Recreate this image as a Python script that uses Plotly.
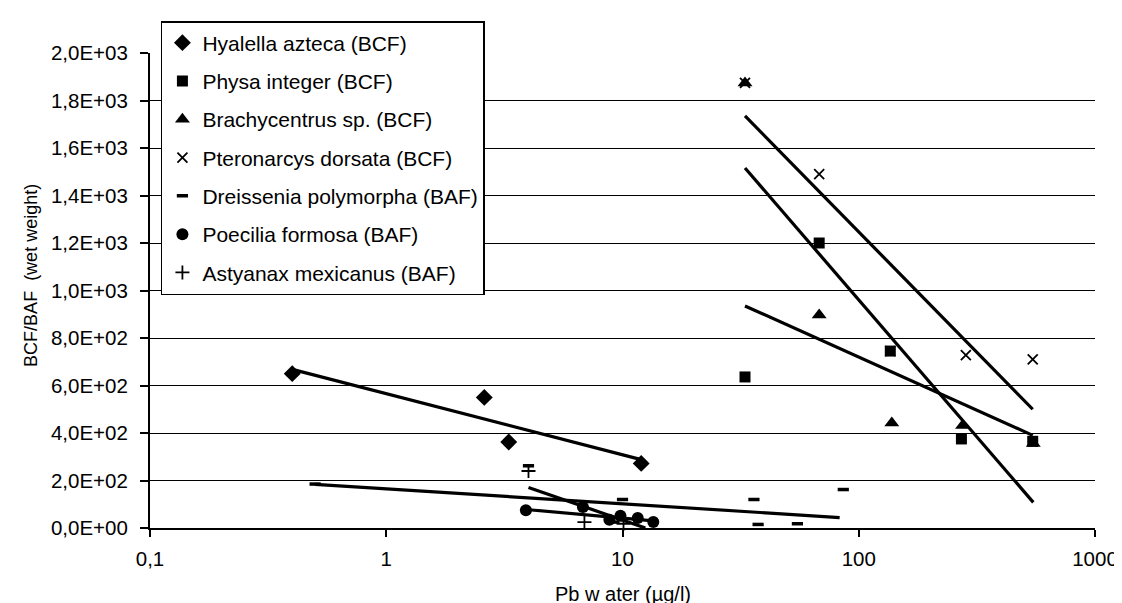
import plotly.graph_objects as go

# ---------------- data ----------------
series_names = [
    "Hyalella azteca (BCF)",
    "Physa integer (BCF)",
    "Brachycentrus sp. (BCF)",
    "Pteronarcys dorsata (BCF)",
    "Dreissenia polymorpha (BAF)",
    "Poecilia formosa (BAF)",
    "Astyanax mexicanus (BAF)",
]

hyalella_x = [0.4, 2.6, 3.3, 12.0]
hyalella_y = [650, 550, 362, 272]

physa_x = [33, 68, 136, 272, 545]
physa_y = [636, 1200, 745, 375, 365]

brachy_x = [33, 68, 138, 275, 548]
brachy_y = [1874, 897, 442, 432, 356]

pteron_x = [33, 68, 136, 284, 545]
pteron_y = [1874, 1490, 745, 728, 710]

dreiss_x = [0.5, 4.0, 9.2, 10.0, 36.0, 37.5, 55.0, 86.0]
dreiss_y = [185, 262, 25, 120, 120, 15, 18, 162]

poecil_x = [3.9, 6.8, 8.8, 9.8, 11.6, 13.5]
poecil_y = [75, 88, 35, 52, 42, 25]

astyan_x = [4.0, 6.9, 10.1]
astyan_y = [240, 25, 18]

# trend-line end points (log trendlines, straight on the log axis)
hyalella_trend_x = [0.4, 12.0]
hyalella_trend_y = [668, 288]
physa_trend_x = [33, 545]
physa_trend_y = [935, 390]
brachy_trend_x = [33, 548]
brachy_trend_y = [1516, 108]
pteron_trend_x = [33, 545]
pteron_trend_y = [1735, 500]
dreiss_trend_x = [0.5, 83.0]
dreiss_trend_y = [184, 44]
poecil_trend_x = [3.9, 13.5]
poecil_trend_y = [78, 30]
astyan_trend_x = [4.0, 12.5]
astyan_trend_y = [171, 0]

x_tickvals = [0.1, 1, 10, 100, 1000]
x_ticktext = ["0,1", "1", "10", "100", "1000"]
y_tickvals = [0, 200, 400, 600, 800, 1000, 1200, 1400, 1600, 1800, 2000]
y_ticktext = ["0,0E+00", "2,0E+02", "4,0E+02", "6,0E+02", "8,0E+02", "1,0E+03",
              "1,2E+03", "1,4E+03", "1,6E+03", "1,8E+03", "2,0E+03"]

# ---------------- figure ----------------
FONT = "Liberation Sans, Arial, sans-serif"
fig = go.Figure()

trends = [
    (hyalella_trend_x, hyalella_trend_y),
    (physa_trend_x, physa_trend_y),
    (brachy_trend_x, brachy_trend_y),
    (pteron_trend_x, pteron_trend_y),
    (dreiss_trend_x, dreiss_trend_y),
    (poecil_trend_x, poecil_trend_y),
    (astyan_trend_x, astyan_trend_y),
]
for tx, ty in trends:
    fig.add_trace(go.Scatter(x=tx, y=ty, mode="lines", showlegend=False,
                             line=dict(color="black", width=3.2), hoverinfo="skip"))

pts = [
    (hyalella_x, hyalella_y, dict(symbol="diamond", size=13, color="black")),
    (physa_x, physa_y, dict(symbol="square", size=11, color="black")),
    (brachy_x, brachy_y, dict(symbol="triangle-up", size=13, color="black")),
    (pteron_x, pteron_y, dict(symbol="x-thin", size=10, color="black",
                              line=dict(color="black", width=1.8))),
    (dreiss_x, dreiss_y, dict(symbol="line-ew", size=8, color="black",
                              line=dict(color="black", width=3.5))),
    (poecil_x, poecil_y, dict(symbol="circle", size=12, color="black")),
    (astyan_x, astyan_y, dict(symbol="cross-thin", size=10, color="black",
                              line=dict(color="black", width=1.8))),
]
for i, (px, py, mk) in enumerate(pts):
    fig.add_trace(go.Scatter(x=px, y=py, mode="markers", name=series_names[i],
                             legendgroup=f"g{i}", marker=mk, cliponaxis=False))

fig.update_layout(
    width=1122, height=603,
    margin=dict(l=142, r=28, t=45, b=83),
    paper_bgcolor="white", plot_bgcolor="white",
    font=dict(family=FONT, size=20, color="black"),
    showlegend=True,
    legend=dict(
        x=(153 - 142) / 952, xanchor="left", y=1 + (45 - 13) / 475, yanchor="top",
        bgcolor="white", bordercolor="black", borderwidth=1.5,
        font=dict(family=FONT, size=21, color="black"),
        tracegroupgap=8, itemwidth=30,
    ),
    xaxis=dict(
        type="log", range=[-1, 3],
        tickvals=x_tickvals, ticktext=x_ticktext,
        showgrid=False, zeroline=False,
        showline=True, linecolor="black", linewidth=2,
        ticks="outside", ticklen=7, tickwidth=1.5, tickcolor="black",
        tickfont=dict(family=FONT, size=20.5, color="black"),
        ticklabelstandoff=4,
    ),
    yaxis=dict(
        range=[0, 2000],
        tickvals=y_tickvals, ticktext=y_ticktext,
        showgrid=True, gridcolor="black", gridwidth=1.3,
        zeroline=False,
        showline=True, linecolor="black", linewidth=2,
        ticks="outside", ticklen=8, tickwidth=1.5, tickcolor="black",
        tickfont=dict(family=FONT, size=20.5, color="black"),
        ticklabelstandoff=8,
    ),
    annotations=[
        dict(text="BCF/BAF  (wet weight)", textangle=-90, xref="paper", yref="paper",
             x=(22 - 142) / 952, y=(520 - 267) / 475, xanchor="center", yanchor="middle",
             showarrow=False, font=dict(family=FONT, size=18, color="black")),
        dict(text="Pb w ater (µg/l)", xref="paper", yref="paper",
             x=0.5, y=-(586 - 520) / 475, xanchor="center", yanchor="middle",
             showarrow=False, font=dict(family=FONT, size=20, color="black")),
    ],
)

fig.write_html("out.html")
